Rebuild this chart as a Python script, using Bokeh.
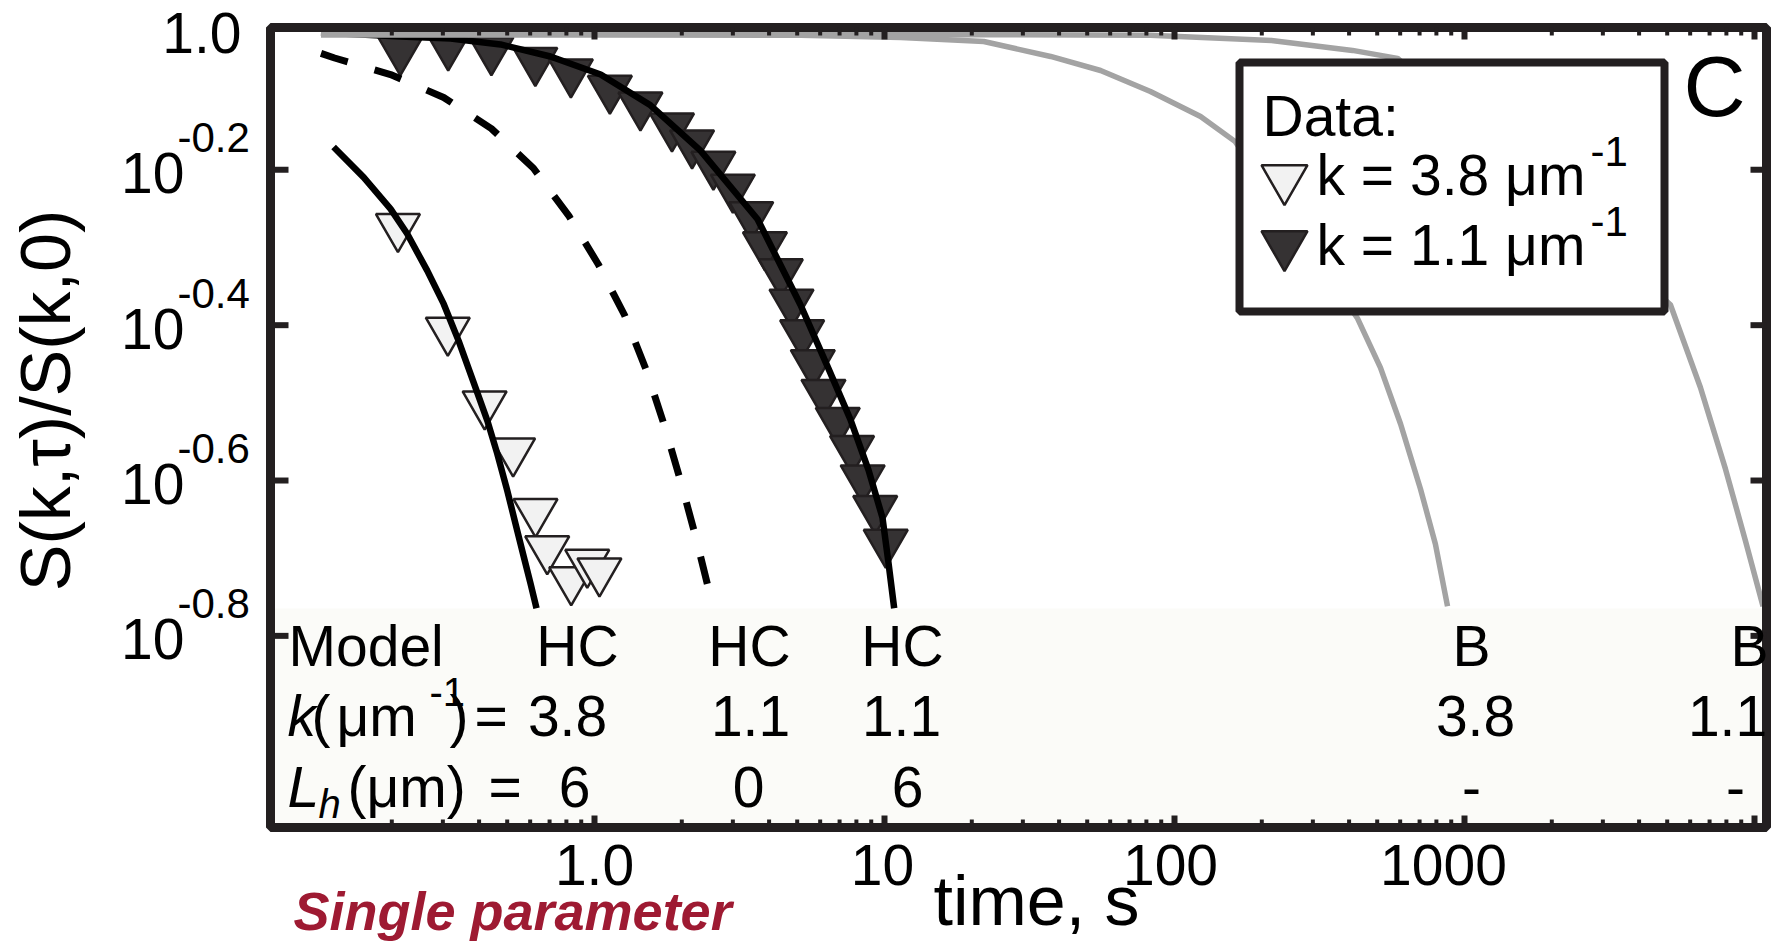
import math
from bokeh.plotting import figure
from bokeh.models import Label
from bokeh.embed import file_html
from bokeh.resources import INLINE

# ------------------------------------------------------------------ data
# measured S(k,tau)/S(k,0), k = 3.8 um^-1 (open triangles)
t_data_k38 = [0.210, 0.312, 0.418, 0.524, 0.626, 0.687, 0.831, 0.944, 1.04]
S_data_k38 = [0.533, 0.392, 0.315, 0.274, 0.229, 0.205, 0.187, 0.197, 0.192]

# measured S(k,tau)/S(k,0), k = 1.1 um^-1 (filled triangles)
t_data_k11 = [0.214, 0.313, 0.441, 0.625, 0.829, 1.13, 1.44, 1.85, 2.17, 2.57, 3.00, 3.47,
              3.87, 4.39, 4.78, 5.20, 5.66, 6.16, 6.90, 7.73, 8.41, 9.29, 10.1]
S_data_k11 = [0.900, 0.913, 0.900, 0.872, 0.843, 0.803, 0.764, 0.718, 0.683, 0.641, 0.599, 0.552,
              0.505, 0.466, 0.426, 0.389, 0.356, 0.326, 0.300, 0.276, 0.253, 0.231, 0.209]

# model HC, k = 3.8, Lh = 6 (solid black)
t_hc_k38_L6 = [0.126, 0.160, 0.198, 0.226, 0.265, 0.302, 0.340, 0.384, 0.427, 0.462, 0.500,
               0.534, 0.571, 0.602, 0.631]
S_hc_k38_L6 = [0.675, 0.617, 0.562, 0.522, 0.468, 0.424, 0.380, 0.335, 0.300, 0.272, 0.244,
               0.221, 0.200, 0.185, 0.172]

# model HC, k = 1.1, Lh = 0 (dashed black)
t_hc_k11_L0 = [0.114, 0.127, 0.198, 0.302, 0.441, 0.616, 0.817, 1.03, 1.27, 1.51, 1.74, 1.98,
               2.23, 2.57]
S_hc_k11_L0 = [0.891, 0.879, 0.837, 0.782, 0.713, 0.634, 0.550, 0.477, 0.410, 0.348, 0.296,
               0.251, 0.213, 0.172]

# model HC, k = 1.1, Lh = 6 (solid black)
t_hc_k11_L6 = [0.114, 0.214, 0.319, 0.474, 0.705, 1.05, 1.56, 2.32, 3.65, 5.13, 6.41, 7.63,
               8.81, 9.84, 10.3, 10.8]
S_hc_k11_L6 = [0.948, 0.937, 0.931, 0.915, 0.883, 0.837, 0.764, 0.668, 0.545, 0.423, 0.350,
               0.301, 0.259, 0.225, 0.198, 0.172]

# model B, k = 3.8 (grey)
t_b_k38 = [0.114, 1.05, 5.13, 11.4, 22.0, 37.4, 55.6, 82.6, 123, 162, 428, 513, 602, 705, 794, 874]
S_b_k38 = [0.942, 0.942, 0.940, 0.934, 0.923, 0.883, 0.847, 0.796, 0.739, 0.686, 0.406, 0.351,
           0.297, 0.245, 0.208, 0.173]

# model B, k = 1.1 (grey)
t_b_k11 = [0.114, 25.1, 82.6, 216, 411, 588, 5130, 6510, 7940, 9310, 10700]
S_b_k11 = [0.942, 0.942, 0.940, 0.926, 0.899, 0.878, 0.423, 0.331, 0.260, 0.210, 0.173]

# axis ticks / labels
x_major_ticks = [1, 10, 100, 1000, 10000]
x_tick_labels = ["1.0", "10", "100", "1000"]
x_minor_mantissas = [2, 3, 4, 5, 6, 7, 8, 9]
x_minor_decades = [0.1, 1, 10, 100, 1000]
y_tick_exponents = ["-0.2", "-0.4", "-0.6", "-0.8"]

# parameter table under the curves
table_model = ["HC", "HC", "HC", "B", "B"]
table_k = ["3.8", "1.1", "1.1", "3.8", "1.1"]
table_L = ["6", "0", "6", "-", "-"]

legend_labels = ["k = 3.8 \u03bcm", "k = 1.1 \u03bcm"]

# ------------------------------------------------------------------ layout helpers
# picture pixel <-> data mapping of the log axes
PX_T1, PX_DEC = 594.0, 290.0     # pixel column of t = 1 s, pixels per decade
PY_S1, PY_DEC = 14.0, 776.7      # pixel row of S = 1, pixels per decade
W, H = 1779, 942
AX_L, AX_R, AX_T, AX_B = 270, 1766, 27, 827   # axes box (frame line centres)


def tx(px):
    return 10 ** ((px - PX_T1) / PX_DEC)


def sy(py):
    return 10 ** (-(py - PY_S1) / PY_DEC)


INK = "#231f20"
FONT = "Liberation Sans"
GREY = "#a3a3a3"
LIGHT = "#f2f2f2"
DARK = "#353233"

p = figure(x_axis_type="log", y_axis_type="log",
           x_range=(tx(0), tx(W)), y_range=(sy(H), sy(0)),
           frame_width=W, frame_height=H, min_border=0,
           x_axis_location=None, y_axis_location=None,
           output_backend="svg", toolbar_location=None)
p.grid.visible = False
p.outline_line_color = None
p.background_fill_color = "white"
p.border_fill_color = "white"

# off-white parameter table background
p.quad(left=tx(AX_L), right=tx(AX_R), top=sy(608), bottom=sy(AX_B),
       fill_color="#fbfbf8", line_color=None)

# data markers
p.scatter(t_data_k38, S_data_k38, marker="inverted_triangle", size=44,
          fill_color=LIGHT, line_color=INK, line_width=2.5)
p.scatter(t_data_k11, S_data_k11, marker="inverted_triangle", size=44,
          fill_color=DARK, line_color=INK, line_width=2.5)

# model curves
p.line(t_hc_k11_L0, S_hc_k11_L0, line_color="black", line_width=7, line_dash="28 28")
p.line(t_hc_k38_L6, S_hc_k38_L6, line_color="black", line_width=6.5, line_join="round")
p.line(t_hc_k11_L6, S_hc_k11_L6, line_color="black", line_width=6.5, line_join="round")
p.line(t_b_k38, S_b_k38, line_color=GREY, line_width=5.5, line_join="round")
p.line(t_b_k11, S_b_k11, line_color=GREY, line_width=5.5, line_join="round")

# axes box
p.quad(left=tx(AX_L), right=tx(AX_R), top=sy(AX_T), bottom=sy(AX_B),
       fill_color=None, line_color=INK, line_width=9)

# ticks (inward), from the tick values through the log scales
x_minor = [m * d for d in x_minor_decades for m in x_minor_mantissas]
y_major = [10 ** float(e) for e in y_tick_exponents]
n = len(x_major_ticks)
p.segment(x0=x_major_ticks, x1=x_major_ticks, y0=[sy(AX_B)] * n, y1=[sy(AX_B - 12)] * n,
          line_color=INK, line_width=6)
p.segment(x0=x_major_ticks, x1=x_major_ticks, y0=[sy(AX_T)] * n, y1=[sy(AX_T + 12)] * n,
          line_color=INK, line_width=6)
m = len(x_minor)
p.segment(x0=x_minor, x1=x_minor, y0=[sy(AX_B)] * m, y1=[sy(AX_B - 8)] * m,
          line_color=INK, line_width=4)
p.segment(x0=x_minor, x1=x_minor, y0=[sy(AX_T)] * m, y1=[sy(AX_T + 8)] * m,
          line_color=INK, line_width=4)
k = len(y_major)
p.segment(x0=[tx(AX_L)] * k, x1=[tx(AX_L + 18)] * k, y0=y_major, y1=y_major,
          line_color=INK, line_width=6)
p.segment(x0=[tx(AX_R)] * k, x1=[tx(AX_R - 16)] * k, y0=y_major, y1=y_major,
          line_color=INK, line_width=6)

# legend box
p.quad(left=tx(1239), right=tx(1664), top=sy(62), bottom=sy(311),
       fill_color="white", line_color=INK, line_width=8)
p.scatter([tx(1284)], [sy(178)], marker="inverted_triangle", size=46,
          fill_color=LIGHT, line_color=INK, line_width=2.5)
p.scatter([tx(1284)], [sy(244)], marker="inverted_triangle", size=46,
          fill_color=DARK, line_color=INK, line_width=2.5)

SHIFT = 0.36   # rendered baseline sits this fraction of the font size below the anchor


def lab(px, py, text, size=57, align="left", style="normal", color="black", vertical=False):
    if vertical:
        x, y, ang = px - SHIFT * size, py, math.pi / 2
    else:
        x, y, ang = px, py - SHIFT * size, 0.0
    p.add_layout(Label(x=tx(x), y=sy(y), text=text, text_font=FONT,
                       text_font_size=f"{size}px", text_font_style=style,
                       text_color=color, text_align=align, text_baseline="alphabetic",
                       angle=ang))


# y tick labels 10^e
for e in y_tick_exponents:
    py = PY_S1 - PY_DEC * float(e)
    lab(184, py + 24, "10", 57, align="right")
    lab(177, py - 17, e, 42)
lab(241, 53, "1.0", 57, align="right")

# x tick labels
for lbl, cx in zip(x_tick_labels, [594, 882, 1170, 1443]):
    lab(cx, 885, lbl, 57, align="center")

# axis titles
lab(1036, 926, "time, s", 70, align="center")
lab(71, 400, "S(k,\u03c4)/S(k,0)", 70, align="center", vertical=True)
lab(293, 930, "Single parameter", 54, style="bold italic", color="#9e1a32")

# panel letter
lab(1683, 116, "C", 86)

# legend texts
lab(1262, 136, "Data:", 57)
for txt, base in zip(legend_labels, [195, 265]):
    lab(1316, base, txt, 57)
    lab(1590, base - 29, "-1", 42)

# table
ROW1, ROW2, ROW3 = 666, 736, 807
lab(288, ROW1, "Model", 57)
lab(287, ROW2, "k", 57, style="italic")
lab(311, ROW2, "(", 57)
lab(336, ROW2, "\u03bcm", 57)
lab(429, ROW2 - 30, "-1", 40)
lab(449, ROW2, ")", 57)
lab(474, ROW2, "=", 57)
lab(287, ROW3, "L", 57, style="italic")
lab(318, ROW3 + 11, "h", 40, style="italic")
lab(347, ROW3, "(\u03bcm)", 57)
lab(488, ROW3, "=", 57)

col_model = [577, 749, 902, 1471, 1749]
col_k = [567, 750, 901, 1475, 1727]
col_L = [574, 748, 907, 1471, 1735]
for i in range(5):
    lab(col_model[i], ROW1, table_model[i], 57, align="center")
    lab(col_k[i], ROW2, table_k[i], 57, align="center")
    lab(col_L[i], ROW3, table_L[i], 57, align="center")

open("out.html", "w").write(file_html(p, INLINE))
